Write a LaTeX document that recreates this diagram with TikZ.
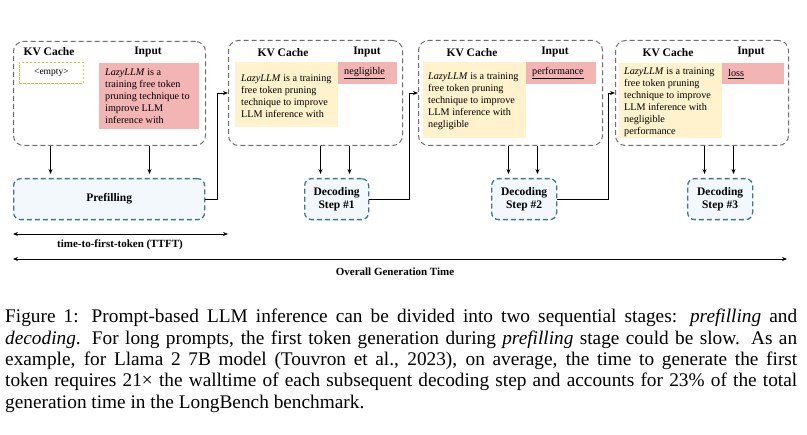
\documentclass[tikz,border=0pt]{standalone}
\usepackage{fontspec}
\setmainfont{Liberation Serif}
\usetikzlibrary{arrows.meta}
\definecolor{inred}{RGB}{243,180,180}
\definecolor{kvyel}{RGB}{255,242,204}
\definecolor{preblue}{RGB}{242,248,252}
\definecolor{bordblue}{RGB}{65,113,156}
\definecolor{bordgray}{RGB}{110,110,110}
\definecolor{emptyyel}{RGB}{240,195,60}
\begin{document}
\begin{tikzpicture}[x=1pt,y=-1pt,
  stage/.style={draw=bordgray, dash pattern=on 5pt off 3pt, line width=1pt, rounded corners=10pt, inner sep=0, anchor=north west},
  head/.style={font=\fontsize{11.5}{13}\selectfont\bfseries, inner sep=0},
  body/.style={font=\fontsize{10.2}{12}\selectfont, align=left, inner sep=0, anchor=west},
  kvfill/.style={fill=kvyel, inner sep=0, anchor=north west},
  infill/.style={fill=inred, inner sep=0, anchor=north west},
  procbox/.style={draw=bordblue, fill=preblue, dash pattern=on 5pt off 3pt, line width=1.3pt, rounded corners=7pt, inner sep=0, anchor=north west, align=center, font=\fontsize{11.5}{13.5}\selectfont\bfseries},
  arr/.style={-{Stealth[length=5pt,width=4pt]}, line width=0.9pt},
  darr/.style={{Stealth[length=5pt,width=4pt]}-{Stealth[length=5pt,width=4pt]}, line width=0.9pt},
  timelbl/.style={font=\fontsize{11}{13}\selectfont\bfseries, inner sep=0}
]
\useasboundingbox (0,0) rectangle (807,435);
\fill[white] (0,0) rectangle (807,435);

% stage boxes
\node[stage, minimum width=192, minimum height=104] (b1) at (13,41) {};
\node[stage, minimum width=174, minimum height=105] (b2) at (228,40) {};
\node[stage, minimum width=184, minimum height=105] (b3) at (418,40) {};
\node[stage, minimum width=173, minimum height=105] (b4) at (615,40) {};

% headings
\node[head] (h1k) at (49,52) {KV Cache};
\node[head] (h1i) at (148,52) {Input};
\node[head] (h2k) at (283,53) {KV Cache};
\node[head] (h2i) at (367,52) {Input};
\node[head] (h3k) at (472,53) {KV Cache};
\node[head] (h3i) at (555,52) {Input};
\node[head] (h4k) at (668,53) {KV Cache};
\node[head] (h4i) at (751,52) {Input};

% stage 1 contents
\node[draw=emptyyel, dash pattern=on 2.5pt off 1.5pt, line width=0.8pt, minimum width=64, minimum height=21, anchor=north west, inner sep=0, font=\fontsize{9.5}{10}\selectfont] (e1) at (19,62) {<empty>};
\node[infill, minimum width=100, minimum height=66] (r1) at (99,63) {};
\node[body] (t1) at (105,96.5) {\emph{LazyLLM} is a\\training free token\\pruning technique to\\improve LLM\\inference with};

% stage 2 contents
\node[kvfill, minimum width=103, minimum height=65] (k2) at (235,62) {};
\node[body] (kt2) at (241,96.5) {\emph{LazyLLM} is a training\\free token pruning\\technique to improve\\LLM inference with};
\node[infill, minimum width=59, minimum height=22] (r2) at (338,62) {};
\node[body] (rt2) at (344,73) {\underline{negligible}};

% stage 3 contents
\node[kvfill, minimum width=103, minimum height=76] (k3) at (423,62) {};
\node[body] (kt3) at (428,101) {\emph{LazyLLM} is a training\\free token pruning\\technique to improve\\LLM inference with\\negligible};
\node[infill, minimum width=70, minimum height=22] (r3) at (526,62) {};
\node[body] (rt3) at (532,73) {\underline{performance}};

% stage 4 contents
\node[kvfill, minimum width=103, minimum height=75] (k4) at (619,63) {};
\node[body] (kt4) at (624,102) {\emph{LazyLLM} is a training\\free token pruning\\technique to improve\\LLM inference with\\negligible\\performance};
\node[infill, minimum width=62, minimum height=21] (r4) at (722,63) {};
\node[body] (rt4) at (728,74) {\underline{loss}};

% process boxes
\node[procbox, minimum width=191, minimum height=41] (pre) at (13,178) {Prefilling};
\node[procbox, minimum width=64, minimum height=41] (d1) at (304,178) {Decoding\\Step \#1};
\node[procbox, minimum width=65, minimum height=41] (d2) at (491,178) {Decoding\\Step \#2};
\node[procbox, minimum width=65, minimum height=41] (d3) at (687,178) {Decoding\\Step \#3};

% down arrows
\draw[arr] (b1.south) ++(-59,0) -- ++(0,28);
\draw[arr] (b1.south) ++(40,0) -- ++(0,28);
\draw[arr] (b2.south) ++(5,0) -- ++(0,28);
\draw[arr] (b2.south) ++(34,0) -- ++(0,28);
\draw[arr] (b3.south) ++(-2,0) -- ++(0,28);
\draw[arr] (b3.south) ++(27,0) -- ++(0,28);
\draw[arr] (b4.south) ++(2.5,0) -- ++(0,28);
\draw[arr] (b4.south) ++(31.5,0) -- ++(0,28);

% feedback connectors
\draw[arr] (pre.east) -- ++(12,0) |- (b2.west);
\draw[arr] (d1.east) -- ++(40,0) |- (b3.west);
\draw[arr] (d2.east) -- ++(51,0) |- (b4.west);

% time arrows
\coordinate (ttfts) at (13,234);
\coordinate (ttfte) at (228,234);
\draw[darr] (ttfts) -- (ttfte);
\node[timelbl] (ttftl) at (120,245) {time-to-first-token (TTFT)};
\coordinate (alls) at (13,259);
\coordinate (alle) at (787,259);
\draw[darr] (alls) -- (alle);
\node[timelbl] (alll) at (395,272) {Overall Generation Time};

% caption
\node[anchor=base west, inner sep=0] (cap) at (5,323) {\parbox[t]{792pt}{\fontsize{19.3}{21.3}\selectfont\parindent=0pt
Figure 1: Prompt-based LLM inference can be divided into two sequential stages: \emph{prefilling} and\linebreak
\emph{decoding}. For long prompts, the first token generation during \emph{prefilling} stage could be slow. As an\linebreak
example, for Llama 2 7B model (Touvron et al., 2023), on average, the time to generate the first\linebreak
token requires 21× the walltime of each subsequent decoding step and accounts for 23\% of the total\linebreak
generation time in the LongBench benchmark.}};
\end{tikzpicture}
\end{document}
